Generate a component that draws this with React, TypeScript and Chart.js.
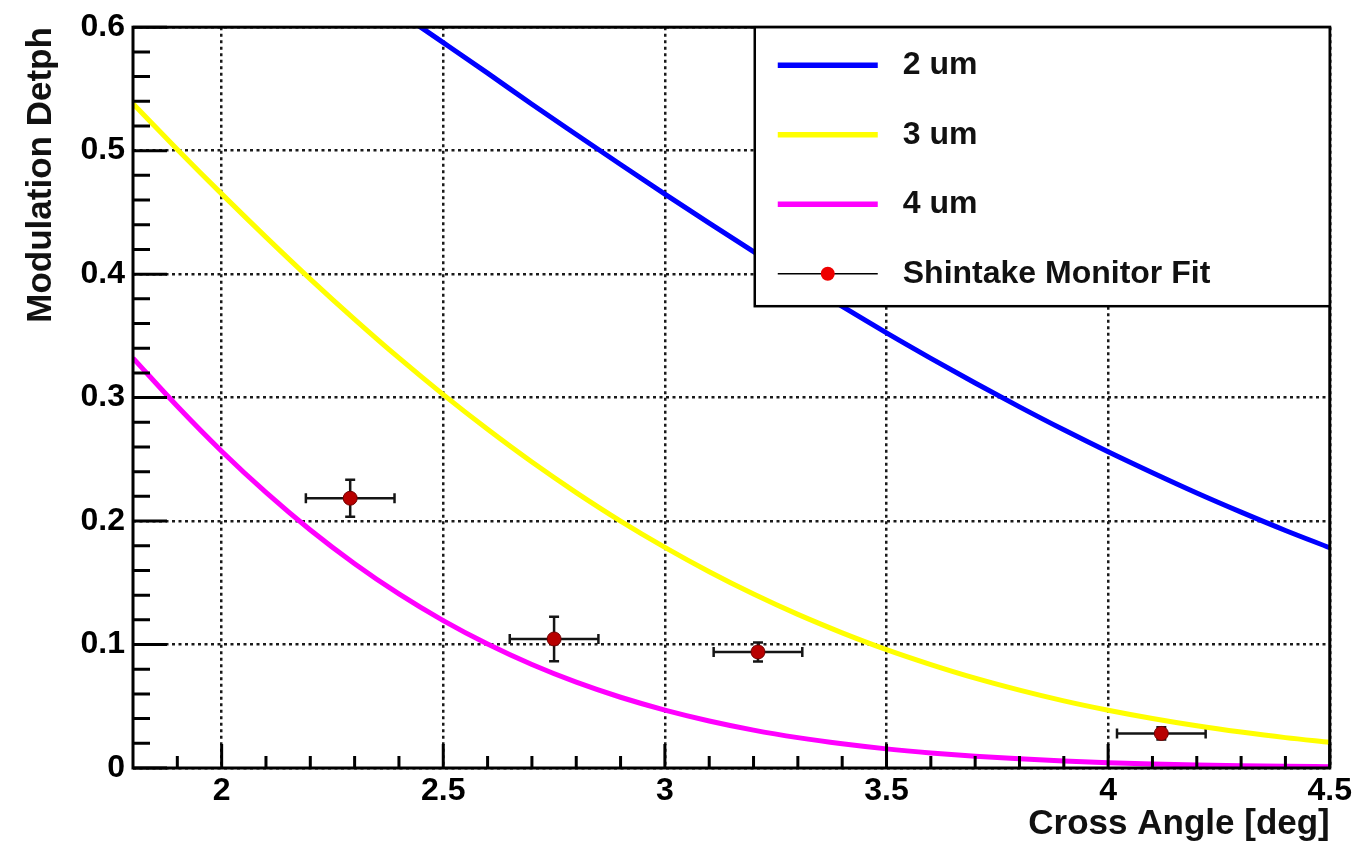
import React, { useEffect, useRef } from "react";
import { Chart, registerables } from "chart.js";

Chart.register(...registerables);

// ---- data ----
const angleGrid = [1.8, 1.9, 2.0, 2.1, 2.2, 2.3, 2.4, 2.5, 2.6, 2.7, 2.8, 2.9, 3.0, 3.1, 3.2, 3.3, 3.4, 3.5, 3.6, 3.7, 3.8, 3.9, 4.0, 4.1, 4.2, 4.3, 4.4, 4.5];
const depth2um = [0.759, 0.735, 0.711, 0.687, 0.662, 0.637, 0.612, 0.5875, 0.5628, 0.5376, 0.5131, 0.4888, 0.4648, 0.4413, 0.4182, 0.3957, 0.3738, 0.3524, 0.3318, 0.3118, 0.2925, 0.2739, 0.2561, 0.2391, 0.2227, 0.2072, 0.1924, 0.1784];
const depth3um = [0.538, 0.501, 0.465, 0.43, 0.396, 0.3634, 0.3321, 0.3024, 0.2743, 0.2478, 0.2231, 0.2, 0.1787, 0.159, 0.1409, 0.1244, 0.1095, 0.0959, 0.0838, 0.0728, 0.0631, 0.0544, 0.0468, 0.0401, 0.0342, 0.0291, 0.0246, 0.0208];
const depth4um = [0.332, 0.293, 0.2566, 0.2232, 0.1928, 0.1655, 0.141, 0.1194, 0.1004, 0.0838, 0.0695, 0.0573, 0.0469, 0.0381, 0.0307, 0.0246, 0.0196, 0.0155, 0.0122, 0.0095, 0.0074, 0.0057, 0.0043, 0.0033, 0.0025, 0.0019, 0.0014, 0.001];

const fitAngle = [2.29, 2.75, 3.21, 4.12];
const fitAngleErr = [0.1, 0.1, 0.1, 0.1];
const fitDepth = [0.2185, 0.1045, 0.094, 0.028];
const fitDepthErr = [0.015, 0.018, 0.0077, 0.005];

const seriesLabels = ["2 um", "3 um", "4 um", "Shintake Monitor Fit"];
const seriesColors = ["#0000ff", "#ffff00", "#ff00ff", "#b80000"];

const xMajorTicks = [2, 2.5, 3, 3.5, 4, 4.5];
const xTickLabels = ["2", "2.5", "3", "3.5", "4", "4.5"];
const xMinorTicks = [1.9, 2.1, 2.2, 2.3, 2.4, 2.6, 2.7, 2.8, 2.9, 3.1, 3.2, 3.3, 3.4, 3.6, 3.7, 3.8, 3.9, 4.1, 4.2, 4.3, 4.4];
const yMajorTicks = [0, 0.1, 0.2, 0.3, 0.4, 0.5, 0.6];
const yTickLabels = ["0", "0.1", "0.2", "0.3", "0.4", "0.5", "0.6"];
const yMinorTicks = [0.02, 0.04, 0.06, 0.08, 0.12, 0.14, 0.16, 0.18, 0.22, 0.24, 0.26, 0.28, 0.32, 0.34, 0.36, 0.38, 0.42, 0.44, 0.46, 0.48, 0.52, 0.54, 0.56, 0.58];

const xTitle = "Cross Angle [deg]";
const yTitle = "Modulation Detph";

const FONT = "'Liberation Sans', Arial, Helvetica, sans-serif";

const errorBarPlugin = {
  id: "errorBars",
  beforeDatasetsDraw(chart: any) {
    const { ctx, scales } = chart;
    const xs = scales.x;
    const ys = scales.y;
    ctx.save();
    ctx.strokeStyle = "#151515";
    ctx.lineWidth = 2.5;
    const cap = 5;
    chart.data.datasets.forEach((ds: any) => {
      if (!ds.xErr) return;
      ds.data.forEach((p: any, i: number) => {
        const cx = xs.getPixelForValue(p.x);
        const cy = ys.getPixelForValue(p.y);
        const xl = xs.getPixelForValue(p.x - ds.xErr[i]);
        const xr = xs.getPixelForValue(p.x + ds.xErr[i]);
        const yt = ys.getPixelForValue(p.y + ds.yErr[i]);
        const yb = ys.getPixelForValue(p.y - ds.yErr[i]);
        ctx.beginPath();
        ctx.moveTo(xl, cy); ctx.lineTo(xr, cy);
        ctx.moveTo(xl, cy - cap); ctx.lineTo(xl, cy + cap);
        ctx.moveTo(xr, cy - cap); ctx.lineTo(xr, cy + cap);
        ctx.moveTo(cx, yt); ctx.lineTo(cx, yb);
        ctx.moveTo(cx - cap, yt); ctx.lineTo(cx + cap, yt);
        ctx.moveTo(cx - cap, yb); ctx.lineTo(cx + cap, yb);
        ctx.stroke();
      });
    });
    ctx.restore();
  },
};

const frameLegendPlugin = {
  id: "frameLegend",
  afterDraw(chart: any) {
    const { ctx, chartArea, scales } = chart;
    const xs = scales.x;
    const ys = scales.y;
    const { left, right, top, bottom } = chartArea;
    ctx.save();
    // ticks (inside)
    ctx.strokeStyle = "#000";
    ctx.lineWidth = 3;
    ctx.beginPath();
    yMajorTicks.forEach((v) => {
      const y = ys.getPixelForValue(v);
      ctx.moveTo(left, y); ctx.lineTo(left + 34, y);
    });
    yMinorTicks.forEach((v) => {
      const y = ys.getPixelForValue(v);
      ctx.moveTo(left, y); ctx.lineTo(left + 17, y);
    });
    xMajorTicks.forEach((v) => {
      const x = xs.getPixelForValue(v);
      ctx.moveTo(x, bottom); ctx.lineTo(x, bottom - 24);
    });
    xMinorTicks.forEach((v) => {
      const x = xs.getPixelForValue(v);
      ctx.moveTo(x, bottom); ctx.lineTo(x, bottom - 12);
    });
    ctx.stroke();
    // frame
    ctx.lineWidth = 3;
    ctx.strokeRect(left, top, right - left, bottom - top);

    // legend
    const w = 575;
    const h = 279;
    const x0 = right - w;
    const y0 = top;
    ctx.fillStyle = "#fff";
    ctx.fillRect(x0, y0, w, h);
    ctx.lineWidth = 2.5;
    ctx.strokeStyle = "#000";
    ctx.strokeRect(x0, y0, w, h);
    ctx.font = `bold 32px ${FONT}`;
    ctx.textBaseline = "middle";
    ctx.textAlign = "left";
    chart.data.datasets.forEach((ds: any, i: number) => {
      const cy = y0 + 38 + i * 69.5;
      const lx0 = x0 + 23;
      const lx1 = x0 + 123;
      if (ds.xErr) {
        ctx.strokeStyle = "#000";
        ctx.lineWidth = 1.5;
        ctx.beginPath();
        ctx.moveTo(lx0, cy); ctx.lineTo(lx1, cy);
        ctx.stroke();
        ctx.fillStyle = "#ee0000";
        ctx.beginPath();
        ctx.arc((lx0 + lx1) / 2, cy, 7, 0, Math.PI * 2);
        ctx.fill();
      } else {
        ctx.strokeStyle = ds.borderColor;
        ctx.lineWidth = 5.5;
        ctx.beginPath();
        ctx.moveTo(lx0, cy); ctx.lineTo(lx1, cy);
        ctx.stroke();
      }
      ctx.fillStyle = "#111";
      ctx.fillText(ds.label, x0 + 148, cy);
    });
    ctx.restore();
  },
};

export default function App() {
  const canvasRef = useRef<HTMLCanvasElement | null>(null);

  useEffect(() => {
    if (!canvasRef.current) return;
    const curve = (ys: number[]) => angleGrid.map((x, i) => ({ x, y: ys[i] }));
    const curveDs = (ys: number[], idx: number) => ({
      label: seriesLabels[idx],
      data: curve(ys),
      showLine: true,
      borderColor: seriesColors[idx],
      backgroundColor: seriesColors[idx],
      borderWidth: 5,
      pointRadius: 0,
      cubicInterpolationMode: "monotone",
      clip: 0,
      order: 3 - idx,
    });
    const chart = new Chart(canvasRef.current, {
      type: "scatter",
      data: {
        datasets: [
          curveDs(depth2um, 0),
          curveDs(depth3um, 1),
          curveDs(depth4um, 2),
          {
            label: seriesLabels[3],
            data: fitAngle.map((x, i) => ({ x, y: fitDepth[i] })),
            xErr: fitAngleErr,
            yErr: fitDepthErr,
            showLine: false,
            pointRadius: 7,
            pointBackgroundColor: seriesColors[3],
            pointBorderColor: "#700000",
            pointBorderWidth: 1,
            order: 0,
          } as any,
        ],
      },
      options: {
        responsive: false,
        animation: false,
        events: [],
        layout: { padding: { left: 0, top: 23, right: 24, bottom: 0 } },
        plugins: { legend: { display: false }, tooltip: { enabled: false } },
        scales: {
          x: {
            type: "linear",
            min: 1.8,
            max: 4.5,
            afterBuildTicks: (s: any) => {
              s.ticks = xMajorTicks.map((v) => ({ value: v }));
            },
            afterFit: (s: any) => {
              s.height = 77;
            },
            ticks: {
              autoSkip: false,
              maxRotation: 0,
              padding: 4,
              color: "#000",
              font: { family: FONT, size: 32, weight: "bold" },
              callback: (_v: any, i: number) => xTickLabels[i],
            },
            grid: { color: "#1a1a1a", lineWidth: 2.5, drawTicks: false },
            border: { display: false, dash: [3, 3.5] },
            title: {
              display: true,
              text: xTitle,
              align: "end",
              color: "#111",
              font: { family: FONT, size: 35, weight: "bold" },
              padding: { top: 0, bottom: 0 },
            },
          },
          y: {
            type: "linear",
            min: 0,
            max: 0.6,
            afterBuildTicks: (s: any) => {
              s.ticks = yMajorTicks.map((v) => ({ value: v }));
            },
            afterFit: (s: any) => {
              s.width = 133;
            },
            ticks: {
              autoSkip: false,
              padding: 8,
              color: "#000",
              font: { family: FONT, size: 32, weight: "bold" },
              callback: (_v: any, i: number) => yTickLabels[i],
            },
            grid: { color: "#1a1a1a", lineWidth: 2.5, drawTicks: false },
            border: { display: false, dash: [3, 3.5] },
            title: {
              display: true,
              text: yTitle,
              align: "end",
              color: "#111",
              font: { family: FONT, size: 35, weight: "bold" },
              padding: { top: 20, bottom: 0 },
            },
          },
        },
      } as any,
      plugins: [errorBarPlugin, frameLegendPlugin],
    });
    return () => chart.destroy();
  }, []);

  return (
    <div style={{ position: "absolute", left: 0, top: 0, width: 1356, height: 845, background: "#fff" }}>
      <canvas ref={canvasRef} width={1356} height={845} />
    </div>
  );
}
